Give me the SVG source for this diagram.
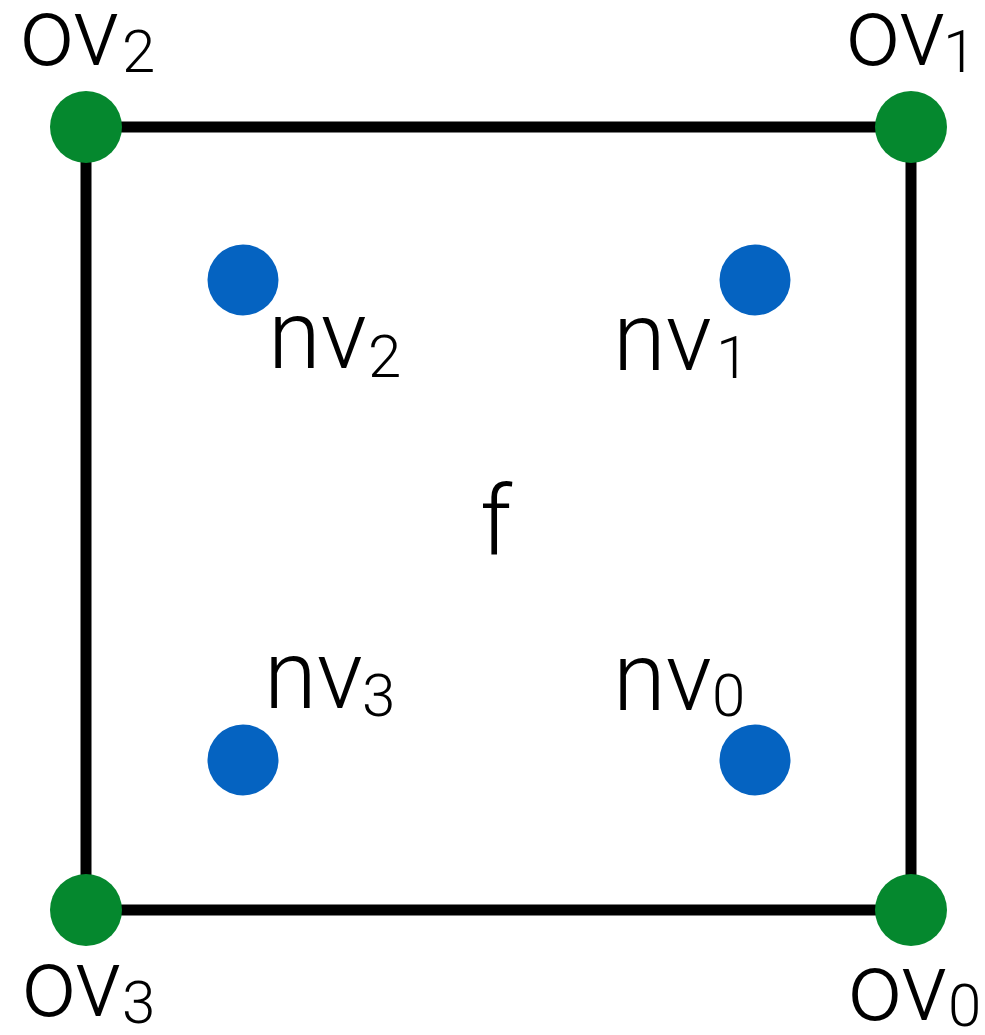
<svg xmlns="http://www.w3.org/2000/svg" width="985" height="1035" viewBox="0 0 985 1035">
<style>
.lbl{font-family:Roboto,"Liberation Sans",sans-serif;font-weight:300;font-size:96px;fill:#000}
.sub{font-size:60px}
.ov{fill:#05882E}
.nv{fill:#0563C1}
.edge{stroke:#000;stroke-width:11;fill:none;stroke-linecap:square}
</style>
<rect width="985" height="1035" fill="#fff"/>
<g id="connectors">
<line class="edge" x1="86" y1="127" x2="911" y2="127"/>
<line class="edge" x1="911" y1="127" x2="911" y2="910"/>
<line class="edge" x1="911" y1="910" x2="86" y2="910"/>
<line class="edge" x1="86" y1="910" x2="86" y2="127"/>
</g>
<g id="ov2"><circle class="ov" cx="86" cy="127" r="36"/><text class="lbl" x="20" y="65">ov<tspan class="sub" x="122" y="72">2</tspan></text></g>
<g id="ov1"><circle class="ov" cx="911" cy="127" r="36"/><text class="lbl" x="846" y="65">ov<tspan class="sub" x="943" y="72">1</tspan></text></g>
<g id="ov3"><circle class="ov" cx="86" cy="910" r="36"/><text class="lbl" x="22" y="1016">ov<tspan class="sub" x="122" y="1023">3</tspan></text></g>
<g id="ov0"><circle class="ov" cx="911" cy="910" r="36"/><text class="lbl" x="848" y="1020">ov<tspan class="sub" x="948" y="1026">0</tspan></text></g>
<g id="nv2"><circle class="nv" cx="243" cy="280" r="35.5"/><text class="lbl" x="268" y="368">nv<tspan class="sub" x="368" y="377">2</tspan></text></g>
<g id="nv1"><circle class="nv" cx="755" cy="280" r="35.5"/><text class="lbl" x="613" y="370">nv<tspan class="sub" x="716" y="378">1</tspan></text></g>
<g id="nv3"><circle class="nv" cx="243" cy="760" r="35.5"/><text class="lbl" x="264" y="708">nv<tspan class="sub" x="362" y="716">3</tspan></text></g>
<g id="nv0"><circle class="nv" cx="755" cy="760" r="35.5"/><text class="lbl" x="613" y="710">nv<tspan class="sub" x="712" y="716">0</tspan></text></g>
<g id="f"><text class="lbl" x="480" y="554">f</text></g>
</svg>
